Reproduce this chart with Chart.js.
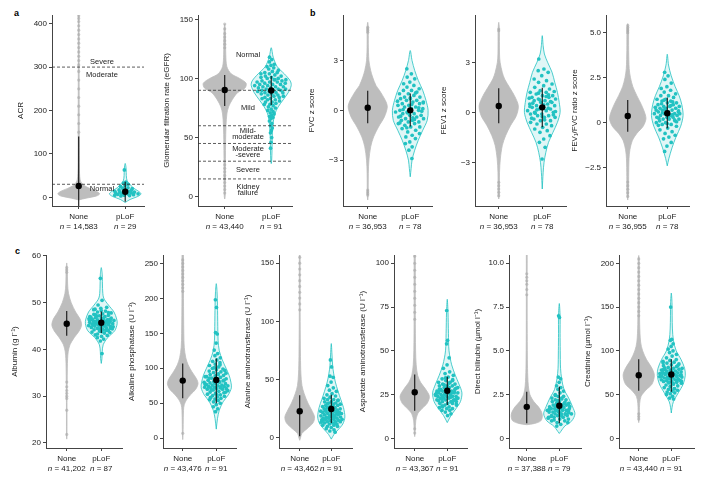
<!DOCTYPE html>
<html>
<head>
<meta charset="utf-8">
<script src="https://cdn.jsdelivr.net/npm/chart.js@4.4.1/dist/chart.umd.min.js"></script>
<style>
  body { margin: 0; background: #fff; }
  #fig { position: relative; width: 705px; height: 482px; font-family: 'Liberation Sans', Arial, sans-serif; }
  #fig canvas { position: absolute; }
  .tag { position: absolute; font-weight: bold; font-size: 9px; color: #000; }
</style>
</head>
<body>
<div id="fig">
  <div class="tag" style="left:14px;top:8px">a</div>
  <div class="tag" style="left:310px;top:8px">b</div>
  <div class="tag" style="left:15px;top:246px">c</div>
</div>
<script>
// groups on the x axis
const groups = ['None', 'pLoF'];

// violin outlines are [value, relative density]

// ---- ACR
const acrTicks = [0, 100, 200, 300, 400];
const acrN = ['14,583', '29'];
const acrNoneShape = [[-6,0],[-2,0.35],[3,0.85],[8,1],[14,0.85],[20,0.55],[26,0.3],[32,0.15],[40,0.07],[55,0.04],[80,0.03],[150,0.025],[300,0.02],[420,0.015],[424,0]];
const acrLofShape = [[-12,0],[-5,0.3],[2,0.8],[8,1],[15,0.8],[22,0.5],[30,0.3],[38,0.12],[50,0.07],[65,0.06],[72,0.04],[78,0]];
const acrLof = [63,35,33,30,27,25,22,21,20,18,17,16,15,14,13,12,12,11,10,10,9,8,8,7,6,5,5,4,3];
const acrOutliers = [150,170,190,210,230,250,270,290,305,315,325,335,345,355,365,375,385,395,405,412,418];
const acrMeans = [26, 13];
const acrSd = [[-90, 140], [-10, 36]];
const acrCutoffs = [30, 300];
const acrBands = [['Severe', 313], ['Moderate', 283], ['Normal', 20]];

// ---- eGFR
const egfrTicks = [0, 50, 100, 150];
const egfrN = ['43,440', '91'];
const egfrNoneShape = [[-2,0],[0,0.02],[20,0.03],[45,0.04],[60,0.06],[70,0.1],[76,0.18],[82,0.35],[88,0.6],[92,0.95],[96,1],[100,0.7],[104,0.3],[110,0.1],[120,0.05],[140,0.03],[146,0]];
const egfrLofShape = [[28,0],[30,0.02],[40,0.04],[50,0.05],[60,0.08],[70,0.18],[76,0.35],[82,0.6],[88,0.85],[94,1],[98,0.95],[104,0.65],[110,0.3],[118,0.1],[126,0]];
const egfrLof = [118,116,114,112,111,110,109,108,107,106,105,105,104,104,103,102,102,101,101,100,
  100,99,99,98,98,97,97,97,96,96,95,95,95,94,94,93,93,93,92,92,91,91,91,90,90,90,89,89,88,88,
  88,87,87,86,86,85,85,84,84,83,83,82,82,81,80,80,79,78,78,77,76,75,74,73,72,71,70,69,68,67,
  66,64,62,60,58,56,54,50,46,41,99];
const egfrOutliers = [146,142,138,135,132,129,126,3,6,9,12,15,18,21,24,27];
const egfrMeans = [90.2, 89.8];
const egfrSd = [[76.7, 103], [77.5, 102]];
const egfrCutoffs = [90, 60, 45, 30, 15];
const egfrBands = [['Normal', 119.8], ['Mild', 74.7], ['Mild-', 55.5], ['moderate', 50.8], ['Moderate', 40], ['-severe', 35.3], ['Severe', 22.5], ['Kidney', 8.2], ['failure', 3.5]];

// ---- FVC z score
const fvcTicks = [-3, 0, 3];
const fvcN = ['36,953', '78'];
const fvcNoneShape = [[-5.4,0],[-5.2,0.02],[-3.8,0.03],[-3,0.06],[-2.2,0.15],[-1.6,0.3],[-1,0.55],[-0.4,0.85],[0.2,1],[0.6,0.9],[1.2,0.6],[1.5,0.42],[2,0.25],[2.4,0.15],[3,0.06],[4,0.03],[5,0.03],[5.3,0]];
const fvcLofShape = [[-4,0],[-3.5,0.05],[-3,0.1],[-2.4,0.25],[-1.8,0.45],[-1.2,0.7],[-0.6,0.95],[0,1],[0.6,0.88],[1.2,0.7],[1.8,0.45],[2.4,0.25],[3,0.1],[3.6,0]];
const fvcLof = [2.5,2.2,2.0,1.9,1.7,1.6,1.5,1.4,1.3,1.2,1.2,1.1,1.0,1.0,0.9,0.8,0.8,0.7,0.7,0.6,
  0.6,0.5,0.5,0.4,0.4,0.3,0.3,0.2,0.2,0.1,0.1,0.0,0.0,-0.1,-0.1,-0.2,-0.2,-0.3,-0.3,-0.4,
  -0.4,-0.5,-0.5,-0.6,-0.6,-0.7,-0.7,-0.8,-0.8,-0.9,-1.0,-1.0,-1.1,-1.2,-1.3,-1.4,-1.5,-1.6,-1.7,-1.9,
  -2.0,-2.2,-2.4,-2.9,0.35,-0.35,0.15,-0.15,0.55,-0.55,0.05,-0.05,0.75,-0.75,1.05,-1.05,0.45,-0.45];
const fvcOutliers = [5.0,4.9,4.8,4.7,-4.8,-4.9,-5.0,-5.1];
const fvcMeans = [0.16, 0.0];
const fvcSd = [[-0.78, 1.18], [-0.98, 1.02]];

// ---- FEV1 z score
const fev1Ticks = [-3, 0, 3];
const fev1N = ['36,953', '78'];
const fev1NoneShape = [[-5.2,0],[-5,0.03],[-3.6,0.04],[-2.8,0.08],[-2,0.18],[-1.4,0.35],[-0.8,0.6],[-0.2,0.9],[0.4,1],[1,0.8],[1.5,0.55],[2,0.3],[2.4,0.18],[3,0.07],[3.5,0.04],[5,0.03],[5.4,0]];
const fev1LofShape = [[-4.6,0],[-3.6,0.05],[-3,0.1],[-2.4,0.2],[-1.8,0.35],[-1.2,0.6],[-0.6,0.85],[0,1],[0.6,0.95],[1.2,0.85],[1.8,0.7],[2.4,0.55],[3,0.3],[3.5,0.12],[4,0.05],[4.6,0]];
const fev1Lof = [3.2,2.6,2.5,2.4,2.2,2.0,1.9,1.8,1.7,1.6,1.5,1.4,1.3,1.2,1.2,1.1,1.0,1.0,0.9,0.9,
  0.8,0.8,0.7,0.7,0.6,0.6,0.5,0.5,0.4,0.4,0.3,0.3,0.2,0.2,0.1,0.1,0.0,0.0,-0.1,-0.1,
  -0.2,-0.2,-0.3,-0.3,-0.4,-0.5,-0.5,-0.6,-0.7,-0.7,-0.8,-0.9,-1.0,-1.1,-1.2,-1.4,-1.6,-1.8,-2.1,-2.8,
  0.35,0.25,0.15,0.05,0.45,0.55,0.65,0.75,0.85,0.95,-0.05,-0.15,-0.25,-0.35,1.05,1.15,1.25,-0.45];
const fev1Outliers = [5.0,4.9,-4.2,-4.4,-4.6,-4.8,-5.0];
const fev1Means = [0.38, 0.3];
const fev1Sd = [[-0.66, 1.44], [-0.9, 1.48]];

// ---- FEV1/FVC ratio z score
const ratioTicks = [-2.5, 0, 2.5, 5];
const ratioN = ['36,955', '78'];
const ratioNoneShape = [[-4.3,0],[-4,0.04],[-3,0.05],[-2,0.07],[-1.5,0.12],[-1,0.25],[-0.6,0.5],[-0.2,0.85],[0.2,1],[0.5,0.95],[1,0.75],[1.5,0.5],[2,0.28],[2.5,0.15],[3,0.08],[4,0.05],[5.2,0.04],[5.5,0]];
const ratioLofShape = [[-2.4,0],[-2,0.1],[-1.4,0.3],[-0.8,0.55],[-0.2,0.85],[0.4,1],[1,0.92],[1.5,0.75],[2,0.5],[2.6,0.25],[3.2,0.08],[3.8,0]];
const ratioLof = [2.8,2.6,2.4,2.2,2.0,1.9,1.8,1.7,1.6,1.5,1.5,1.4,1.3,1.3,1.2,1.2,1.1,1.1,1.0,1.0,
  0.9,0.9,0.9,0.8,0.8,0.8,0.7,0.7,0.7,0.6,0.6,0.6,0.5,0.5,0.5,0.4,0.4,0.4,0.3,0.3,
  0.3,0.2,0.2,0.2,0.1,0.1,0.0,0.0,-0.1,-0.1,-0.2,-0.3,-0.4,-0.5,-0.6,-0.7,-0.8,-0.9,-1.1,-1.3,
  -1.6,0.45,0.55,0.65,0.35,0.25,0.15,0.75,0.85,0.95,1.05,0.05,-0.05,-0.15,1.15,1.25,0.5,0.4];
const ratioOutliers = [5.4,5.3,5.2,5.1,5.0,-3.3,-3.5,-3.7,-3.9,-4.1];
const ratioMeans = [0.37, 0.52];
const ratioSd = [[-0.5, 1.26], [-0.31, 1.4]];

// ---- Albumin
const albTicks = [20, 30, 40, 50, 60];
const albN = ['41,202', '87'];
const albNoneShape = [[20.8,0],[21,0.015],[31,0.02],[33,0.03],[36,0.04],[38,0.06],[39.5,0.1],[41,0.22],[42.5,0.5],[44,0.85],[45.2,1],[46.5,0.9],[48,0.6],[50,0.3],[52,0.12],[54,0.06],[57,0.04],[58.5,0]];
const albLofShape = [[37,0],[38,0.04],[39.5,0.06],[41,0.12],[42.5,0.4],[44,0.85],[45.5,1],[46.5,0.97],[48,0.8],[49.5,0.45],[51,0.15],[53,0.08],[56,0.06],[57.5,0]];
const albLof = [55.2,50.5,49.5,49.0,48.8,48.5,48.2,48.0,47.8,47.6,47.5,47.3,47.2,47.0,47.0,46.8,46.7,46.6,46.5,46.4,
  46.3,46.2,46.1,46.0,46.0,45.9,45.8,45.7,45.6,45.5,45.5,45.4,45.3,45.2,45.1,45.0,45.0,44.9,44.8,44.7,
  44.6,44.5,44.4,44.3,44.2,44.0,43.9,43.7,43.5,43.3,43.0,42.8,42.5,42.2,41.8,39.1,46.15,45.85,46.45,45.35,
  46.9,44.05,47.1,43.6,45.05,46.35,45.65,44.35,46.55,45.15,47.4,44.55,48.3,43.1,46.05,45.45,44.85,46.75,45.25,47.9,
  44.15,46.25,45.75,45.95,44.65,43.8,48.6];
const albOutliers = [57.5,57,56.5,33,32,31.2,30.6,30,29.5,27,21.8];
const albMeans = [45.5, 45.7];
const albSd = [[42.9, 48.2], [43.5, 48.1]];

// ---- Alkaline phosphatase
const alpTicks = [0, 50, 100, 150, 200, 250];
const alpN = ['43,476', '91'];
const alpNoneShape = [[-2,0],[5,0.02],[20,0.03],[40,0.05],[48,0.1],[55,0.25],[62,0.5],[70,0.85],[78,1],[85,0.9],[95,0.6],[105,0.35],[115,0.2],[130,0.1],[150,0.07],[200,0.05],[270,0.04]];
const alpLofShape = [[13,0],[28,0.08],[40,0.2],[52,0.45],[62,0.8],[72,1],[80,0.97],[90,0.85],[100,0.65],[112,0.4],[125,0.2],[140,0.12],[160,0.1],[190,0.08],[210,0.05],[221,0]];
const alpLof = [198,187,151,149,136,126,121,118,115,112,110,108,106,104,102,100,99,98,96,95,
  94,93,92,91,90,89,88,87,86,85,84,83,82,81,80,80,79,78,78,77,
  76,76,75,75,74,74,73,73,72,72,71,71,70,70,69,68,67,66,65,64,
  63,62,61,60,59,58,57,56,55,54,52,50,48,45,42,38,97,91,86,83,
  79,77,73,69,66,62,58,105,101,88,81];
const alpOutliers = [255,250,245,240,235,230,225,220,215,210,7];
const alpMeans = [82.4, 83.3];
const alpSd = [[57, 107], [50, 114]];

// ---- Alanine aminotransferase
const altTicks = [0, 50, 100, 150];
const altN = ['43,462', '91'];
const altNoneShape = [[-2,0],[0,0.05],[4,0.15],[8,0.5],[13,0.9],[18,1],[24,0.8],[30,0.55],[38,0.3],[45,0.15],[55,0.08],[70,0.05],[100,0.03],[165,0.02]];
const altLofShape = [[-1,0],[3,0.2],[7,0.5],[12,0.85],[18,1],[26,0.9],[33,0.7],[40,0.5],[48,0.3],[55,0.18],[62,0.1],[72,0.05],[81,0]];
const altLof = [67,61,53,52,48,45,43,41,40,38,37,36,35,34,33,33,32,31,31,30,
  30,29,29,28,28,27,27,26,26,25,25,25,24,24,23,23,23,22,22,22,
  21,21,21,20,20,20,19,19,19,18,18,18,17,17,17,16,16,16,15,15,
  15,14,14,14,13,13,12,12,11,11,10,10,9,8,7,6,5,27.5,24.5,21.5,
  18.5,15.5,12.5,29.5,32.5,19.5,16.5,23.5,26.5,13.5,17.5];
const altOutliers = [155,150,145,140,135,130,125,120,115,110];
const altMeans = [22.9, 24.9];
const altSd = [[1.4, 36.6], [12.9, 37]];

// ---- Aspartate aminotransferase
const astTicks = [0, 25, 50, 75, 100];
const astN = ['43,367', '91'];
const astNoneShape = [[1,0],[5,0.04],[10,0.07],[14,0.2],[17,0.5],[20,0.85],[24,1],[28,0.75],[32,0.4],[36,0.2],[42,0.1],[50,0.06],[70,0.04],[110,0.03]];
const astLofShape = [[9,0],[13,0.25],[17,0.6],[21,0.9],[26,1],[31,0.8],[36,0.55],[42,0.3],[50,0.12],[60,0.08],[72,0.05],[79.4,0]];
const astLof = [73,56,54,46,42,40,38,37,36,35,34,33,33,32,32,31,31,30,30,30,
  29,29,29,28,28,28,27,27,27,26,26,26,26,25,25,25,25,24,24,24,
  24,23,23,23,23,22,22,22,21,21,21,20,20,20,19,19,18,18,17,17,
  16,16,15,14,13,27.5,26.5,25.5,24.5,23.5,22.5,28.5,29.5,21.5,20.5,30.5,19.5,31.5,18.5,33.5,
  24.2,25.8,26.2,23.8,22.8,27.8,28.2,21.8,34.5,17.5,25.2];
const astOutliers = [104,100,96,92,88,84,80,76,72,68,3,5.5];
const astMeans = [26.3, 27.2];
const astSd = [[15.8, 36.5], [19, 35.2]];

// ---- Direct bilirubin
const dbilTicks = [0, 2.5, 5, 7.5, 10];
const dbilN = ['37,388', '79'];
const dbilNoneShape = [[0.78,0],[0.85,0.5],[1,0.9],[1.25,1],[1.5,0.95],[1.8,0.75],[2.1,0.45],[2.5,0.2],[3,0.1],[4,0.05],[6,0.03],[9,0.025],[11,0.02]];
const dbilLofShape = [[0.28,0],[0.4,0.1],[0.7,0.35],[1,0.8],[1.4,1],[1.8,0.85],[2.3,0.6],[2.8,0.3],[3.4,0.15],[4,0.08],[5,0.06],[6,0.05],[7,0.05],[7.7,0]];
const dbilLof = [7.0,6.9,3.5,3.4,3.2,3.0,2.9,2.8,2.7,2.6,2.5,2.4,2.4,2.3,2.3,2.2,2.2,2.1,2.1,2.0,
  2.0,2.0,1.9,1.9,1.9,1.8,1.8,1.8,1.7,1.7,1.7,1.7,1.6,1.6,1.6,1.6,1.5,1.5,1.5,1.5,
  1.4,1.4,1.4,1.4,1.3,1.3,1.3,1.2,1.2,1.2,1.1,1.1,1.0,1.0,0.9,0.9,0.8,0.7,1.45,1.55,
  1.65,1.75,1.85,1.95,1.35,1.25,2.05,2.15,1.15,2.25,1.05,1.62,1.48,1.72,1.38,1.58,1.82,1.28,2.45];
const dbilOutliers = [9.4,9.2,9.0,8.8,8.5,8.2];
const dbilMeans = [1.8, 1.86];
const dbilSd = [[0.86, 2.66], [0.86, 2.95]];

// ---- Creatinine
const creaTicks = [0, 50, 100, 150, 200];
const creaN = ['43,440', '91'];
const creaNoneShape = [[18,0],[22,0.03],[30,0.04],[40,0.06],[48,0.15],[55,0.45],[62,0.85],[72,1],[80,0.85],[90,0.5],[100,0.25],[110,0.12],[130,0.06],[170,0.04],[205,0.03],[209,0]];
const creaLofShape = [[29,0],[35,0.05],[42,0.15],[52,0.5],[62,0.85],[72,1],[80,0.95],[90,0.7],[100,0.35],[112,0.15],[125,0.08],[140,0.06],[155,0.05],[166,0]];
const creaLof = [150,113,112,108,105,102,100,98,96,94,92,90,89,88,87,86,85,84,83,82,
  81,80,80,79,79,78,78,77,77,76,76,75,75,74,74,73,73,72,72,71,
  71,70,70,69,69,68,68,67,67,66,66,65,65,64,64,63,62,61,60,59,
  58,57,56,55,54,53,52,51,50,48,46,45,77.5,74.5,71.5,68.5,65.5,62.5,80.5,83.5,
  59.5,86.5,56.5,75.5,72.5,69.5,78.5,66.5,63.5,70.5,73.5];
const creaOutliers = [205,200,195,190,185,180,175,170,165,160,155,150,145,140,22,25,28];
const creaMeans = [72.2, 73];
const creaSd = [[54.4, 90.5], [53.2, 90.5]];

// panel list: data + where each panel sits (axis x, plot top/bottom, category x, value range, violin half widths)
const panels = [
  { title: 'ACR', ticks: acrTicks, n: acrN, shapes: [acrNoneShape, acrLofShape], lof: acrLof, outliers: acrOutliers,
    means: acrMeans, sd: acrSd, cutoffs: acrCutoffs, bands: acrBands,
    box: { axisX: 52, endX: 145, top: 15, bottom: 206, noneX: 79, lofX: 126, yMin: -20, yMax: 420, w: [0.45, 0.34] } },
  { title: 'Glomerular filtration rate (eGFR)', ticks: egfrTicks, n: egfrN, shapes: [egfrNoneShape, egfrLofShape], lof: egfrLof, outliers: egfrOutliers,
    means: egfrMeans, sd: egfrSd, cutoffs: egfrCutoffs, bands: egfrBands,
    box: { axisX: 198, endX: 293, top: 15, bottom: 206, noneX: 225, lofX: 272, yMin: -7.9, yMax: 153.7, w: [0.46, 0.43] } },
  { title: 'FVC z score', ticks: fvcTicks, n: fvcN, shapes: [fvcNoneShape, fvcLofShape], lof: fvcLof, outliers: fvcOutliers,
    means: fvcMeans, sd: fvcSd,
    box: { axisX: 343, endX: 433, top: 15, bottom: 206, noneX: 368, lofX: 411, yMin: -5.76, yMax: 5.74, w: [0.46, 0.42] } },
  { title: 'FEV1 z score', ticks: fev1Ticks, n: fev1N, shapes: [fev1NoneShape, fev1LofShape], lof: fev1Lof, outliers: fev1Outliers,
    means: fev1Means, sd: fev1Sd,
    box: { axisX: 475, endX: 567, top: 15, bottom: 206, noneX: 499, lofX: 543, yMin: -5.62, yMax: 5.84, w: [0.45, 0.41] } },
  { title: 'FEV\u2081/FVC ratio z score', ticks: ratioTicks, decimals: 1, n: ratioN, shapes: [ratioNoneShape, ratioLofShape], lof: ratioLof, outliers: ratioOutliers,
    means: ratioMeans, sd: ratioSd,
    box: { axisX: 606, endX: 690, top: 15, bottom: 206, noneX: 628, lofX: 668, yMin: -4.63, yMax: 5.98, w: [0.46, 0.40] } },
  { title: 'Albumin (g l\u207B\u00B9)', ticks: albTicks, n: albN, shapes: [albNoneShape, albLofShape], lof: albLof, outliers: albOutliers,
    means: albMeans, sd: albSd,
    box: { axisX: 46, endX: 123, top: 255, bottom: 448, noneX: 67, lofX: 102, yMin: 18.9, yMax: 60.2, w: [0.43, 0.46] } },
  { title: 'Alkaline phosphatase (U l\u207B\u00B9)', ticks: alpTicks, n: alpN, shapes: [alpNoneShape, alpLofShape], lof: alpLof, outliers: alpOutliers,
    means: alpMeans, sd: alpSd,
    box: { axisX: 163, endX: 237, top: 255, bottom: 448, noneX: 183, lofX: 217, yMin: -14, yMax: 262, w: [0.456, 0.45] } },
  { title: 'Alanine aminotransferase (U l\u207B\u00B9)', ticks: altTicks, n: altN, shapes: [altNoneShape, altLofShape], lof: altLof, outliers: altOutliers,
    means: altMeans, sd: altSd,
    box: { axisX: 279, endX: 353, top: 255, bottom: 448, noneX: 300, lofX: 332, yMin: -8.6, yMax: 157, w: [0.47, 0.43] } },
  { title: 'Aspartate aminotransferase (U l\u207B\u00B9)', ticks: astTicks, n: astN, shapes: [astNoneShape, astLofShape], lof: astLof, outliers: astOutliers,
    means: astMeans, sd: astSd,
    box: { axisX: 394, endX: 468, top: 255, bottom: 448, noneX: 415, lofX: 448, yMin: -5.5, yMax: 104.7, w: [0.45, 0.45] } },
  { title: 'Direct bilirubin (\u00B5mol l\u207B\u00B9)', ticks: dbilTicks, decimals: 1, n: dbilN, shapes: [dbilNoneShape, dbilLofShape], lof: dbilLof, outliers: dbilOutliers,
    means: dbilMeans, sd: dbilSd,
    box: { axisX: 509, endX: 582, top: 255, bottom: 448, noneX: 527, lofX: 560, yMin: -0.55, yMax: 10.47, w: [0.48, 0.48] } },
  { title: 'Creatinine (\u00B5mol l\u207B\u00B9)', ticks: creaTicks, n: creaN, shapes: [creaNoneShape, creaLofShape], lof: creaLof, outliers: creaOutliers,
    means: creaMeans, sd: creaSd,
    box: { axisX: 619, endX: 695, top: 255, bottom: 448, noneX: 639, lofX: 672, yMin: -11, yMax: 209.5, w: [0.48, 0.43] } }
];

const GRAY = '#bdbdbd';
const TEAL = '#22c2c2';
const AXIS = '#444';
const FONT = "'Liberation Sans', Arial, sans-serif";
const Y_AXIS_W = 40, X_AXIS_H = 26;

Chart.defaults.font.family = FONT;
Chart.defaults.font.size = 8;
Chart.defaults.color = '#222';

// half width of a violin at value y (linear lookup in the outline)
function widthAt(shape, y) {
  for (let i = 0; i < shape.length - 1; i++) {
    const [y0, d0] = shape[i], [y1, d1] = shape[i + 1];
    if ((y - y0) * (y - y1) <= 0) return y1 === y0 ? d0 : d0 + (d1 - d0) * (y - y0) / (y1 - y0);
  }
  return 0;
}

function outline(shape, cx, w) {
  const right = shape.map(([y, d]) => ({ x: cx + d * w, y }));
  let left = shape.slice().reverse().map(([y, d]) => ({ x: cx - d * w, y }));
  if (shape[shape.length - 1][1] === 0) left = left.slice(1);
  return right.concat(left);
}

function fmtTick(v, decimals) {
  const s = v === 0 ? '0' : (decimals ? v.toFixed(decimals) : String(v));
  return s.replace('-', '\u2212');
}

// text labels for the clinical bands, placed through the scales
const bandLabels = {
  id: 'bandLabels',
  afterDatasetsDraw(chart, args, opts) {
    if (!opts.items) return;
    const { ctx, scales } = chart;
    ctx.save();
    ctx.font = '7.5px ' + FONT;
    ctx.fillStyle = '#222';
    ctx.textAlign = 'center';
    ctx.textBaseline = 'middle';
    opts.items.forEach(([text, y]) => {
      ctx.fillText(text, scales.x.getPixelForValue(0.5), scales.y.getPixelForValue(y));
    });
    ctx.restore();
  }
};

// group names and counts under the x axis ("n" in italics)
const groupLabels = {
  id: 'groupLabels',
  afterDraw(chart, args, opts) {
    const { ctx, scales, chartArea } = chart;
    ctx.save();
    ctx.fillStyle = '#222';
    ctx.textBaseline = 'middle';
    groups.forEach((g, i) => {
      const cx = scales.x.getPixelForValue(i);
      ctx.font = '8px ' + FONT;
      ctx.textAlign = 'center';
      ctx.fillText(g, cx, chartArea.bottom + 11);
      const rest = ' = ' + opts.n[i];
      ctx.font = 'italic 8px ' + FONT;
      const wn = ctx.measureText('n').width;
      ctx.font = '8px ' + FONT;
      const wr = ctx.measureText(rest).width;
      const x0 = cx - (wn + wr) / 2;
      ctx.textAlign = 'left';
      ctx.font = 'italic 8px ' + FONT;
      ctx.fillText('n', x0, chartArea.bottom + 21);
      ctx.font = '8px ' + FONT;
      ctx.fillText(rest, x0 + wn, chartArea.bottom + 21);
    });
    ctx.restore();
  }
};

function makePanel(p) {
  const b = p.box;
  const unit = b.lofX - b.noneX;
  const xMin = -(b.noneX - b.axisX) / unit;
  const xMax = 1 + (b.endX - b.lofX) / unit;

  const canvas = document.createElement('canvas');
  const left = b.axisX - Y_AXIS_W;
  const top = b.top - 8;
  canvas.width = b.endX - left + 3;
  canvas.height = b.bottom - top + X_AXIS_H;
  canvas.style.left = left + 'px';
  canvas.style.top = top + 'px';
  document.getElementById('fig').appendChild(canvas);

  const lofShape = p.shapes[1];
  const lofPoints = p.lof.map((y, i) => {
    const u = ((i * 0.6180339887) % 1) * 2 - 1;
    return { x: 1 + u * widthAt(lofShape, y) * b.w[1] * 0.85, y };
  });

  const datasets = [];
  datasets.push({ type: 'scatter', data: p.means.map((m, i) => ({ x: i, y: m })),
    pointRadius: 3.2, backgroundColor: '#000', borderWidth: 0, order: 0 });
  p.sd.forEach((r, i) => datasets.push({ type: 'line', data: [{ x: i, y: r[0] }, { x: i, y: r[1] }],
    borderColor: '#111', borderWidth: 1.1, pointRadius: 0, fill: false, order: 1 }));
  (p.cutoffs || []).forEach(c => datasets.push({ type: 'line', data: [{ x: xMin, y: c }, { x: xMax, y: c }],
    borderColor: '#333', borderWidth: 0.8, borderDash: [3, 2], pointRadius: 0, fill: false, order: 2 }));
  datasets.push({ type: 'scatter', data: lofPoints, pointRadius: 1.85, backgroundColor: TEAL, borderWidth: 0, order: 3 });
  datasets.push({ type: 'scatter', data: p.outliers.map(y => ({ x: 0, y })), pointRadius: 1.6,
    backgroundColor: 'rgba(170,170,170,0.6)', borderWidth: 0, order: 4 });
  datasets.push({ type: 'line', data: outline(lofShape, 1, b.w[1]), borderColor: TEAL, borderWidth: 0.8,
    backgroundColor: 'rgba(34,194,194,0.14)', fill: 'shape', tension: 0.3, pointRadius: 0, order: 5 });
  datasets.push({ type: 'line', data: outline(p.shapes[0], 0, b.w[0]), borderColor: GRAY, borderWidth: 0.8,
    backgroundColor: GRAY, fill: 'shape', tension: 0.3, pointRadius: 0, order: 6 });

  new Chart(canvas, {
    type: 'scatter',
    data: { datasets },
    plugins: [bandLabels, groupLabels],
    options: {
      responsive: false,
      animation: false,
      events: [],
      layout: { padding: { top: b.top - top, right: 3, left: 0, bottom: 0 } },
      plugins: { legend: { display: false }, tooltip: { enabled: false },
        bandLabels: { items: p.bands }, groupLabels: { n: p.n } },
      scales: {
        x: {
          type: 'linear', min: xMin, max: xMax,
          afterBuildTicks: s => { s.ticks = [{ value: 0 }, { value: 1 }]; },
          afterFit: s => { s.height = X_AXIS_H; },
          grid: { drawOnChartArea: false, tickLength: 3, color: AXIS },
          border: { display: true, color: AXIS, width: 1 },
          ticks: { autoSkip: false, maxRotation: 0, callback: () => '' }
        },
        y: {
          type: 'linear', min: b.yMin, max: b.yMax,
          afterBuildTicks: s => { s.ticks = p.ticks.map(v => ({ value: v })); },
          afterFit: s => { s.width = Y_AXIS_W; },
          grid: { drawOnChartArea: false, tickLength: 3, color: AXIS },
          border: { display: true, color: AXIS, width: 1 },
          ticks: { autoSkip: false, padding: 2, color: '#222', callback: v => fmtTick(v, p.decimals) },
          title: { display: true, text: p.title, color: '#222', font: { size: 8 }, padding: { top: 4, bottom: 0 } }
        }
      }
    }
  });
}

panels.forEach(makePanel);
</script>
</body>
</html>
